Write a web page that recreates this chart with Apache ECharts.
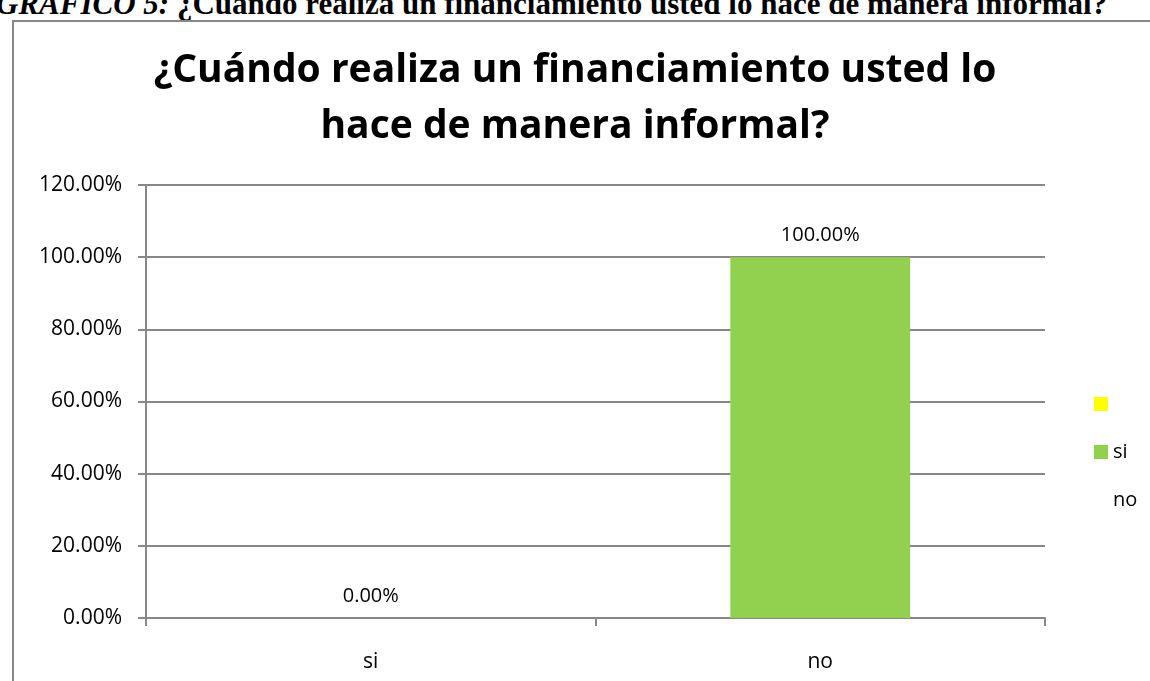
<!DOCTYPE html>
<html>
<head>
<meta charset="utf-8">
<script src="https://cdn.jsdelivr.net/npm/echarts@6/dist/echarts.min.js"></script>
<style>
  html, body { margin: 0; padding: 0; background: #fff; overflow: hidden; }
  #caption {
    position: absolute; left: -4px; top: -14px; white-space: nowrap;
    font-family: "Liberation Serif", serif; font-weight: bold; font-size: 31px; color: #000;
  }
  #frame {
    position: absolute; left: 12px; top: 20px; width: 1200px; height: 700px;
    border: 2px solid #888; box-sizing: border-box; background: #fff;
  }
  #myChart { position: absolute; left: 0; top: 0; width: 1150px; height: 681px; }
</style>
</head>
<body>
<div id="caption"><i>GRAFICO 5:</i> ¿Cuándo realiza un financiamiento usted lo hace de manera informal?</div>
<div id="frame"></div>
<div id="myChart"></div>
<script>
// datos
const categories = ['si', 'no'];
const valores = [0, 100];
const yTicks = [0, 20, 40, 60, 80, 100, 120];
const legendNames = [' ', 'si', 'no'];

const chart = echarts.init(document.getElementById('myChart'));
const fuente = '"Open Sans", "Liberation Sans", sans-serif';

const option = {
  animation: false,
  textStyle: { fontFamily: fuente },
  title: {
    text: '¿Cuándo realiza un financiamiento usted lo\nhace de manera informal?',
    left: 'center',
    top: 38,
    textStyle: { fontSize: 39, fontWeight: 'bold', color: '#000', lineHeight: 56, fontFamily: fuente },
  },
  legend: {
    orient: 'vertical',
    left: 1089,
    top: 389,
    itemWidth: 14,
    itemHeight: 14,
    itemGap: 28,
    textStyle: { fontSize: 20, color: '#000', padding: [30, 0, 0, 0] },
    data: [
      { name: legendNames[0], icon: 'rect' },
      { name: legendNames[1], icon: 'rect' },
      { name: legendNames[2], icon: 'none' },
    ],
  },
  grid: { left: 146, right: 105, top: 185, bottom: 63 },
  xAxis: {
    type: 'category',
    data: categories,
    axisLine: { lineStyle: { color: '#888', width: 2 } },
    axisTick: { show: true, length: 8, lineStyle: { color: '#888', width: 2 } },
    axisLabel: { fontSize: 21, color: '#000', margin: 34 },
  },
  yAxis: {
    type: 'value',
    min: yTicks[0],
    max: yTicks[yTicks.length - 1],
    interval: 20,
    axisLine: { show: true, lineStyle: { color: '#888', width: 2 } },
    axisTick: { show: true, length: 8, lineStyle: { color: '#888', width: 2 } },
    splitLine: { lineStyle: { color: '#888', width: 2 } },
    axisLabel: {
      fontSize: 21, color: '#000', margin: 24,
      formatter: (v) => v.toFixed(2) + '%',
    },
  },
  series: [
    {
      name: legendNames[0], type: 'bar', data: [],
      itemStyle: { color: '#FFFF00' },
    },
    {
      name: legendNames[1], type: 'bar', data: valores,
      barGap: '-100%', barCategoryGap: '60%',
      itemStyle: { color: '#92D050' },
      label: {
        show: true, position: 'top', distance: 12, fontSize: 20, color: '#000',
        formatter: (p) => p.value.toFixed(2) + '%',
      },
    },
    {
      name: legendNames[2], type: 'bar', data: [],
      itemStyle: { color: '#4F81BD' },
    },
  ],
};
chart.setOption(option);
</script>
</body>
</html>
